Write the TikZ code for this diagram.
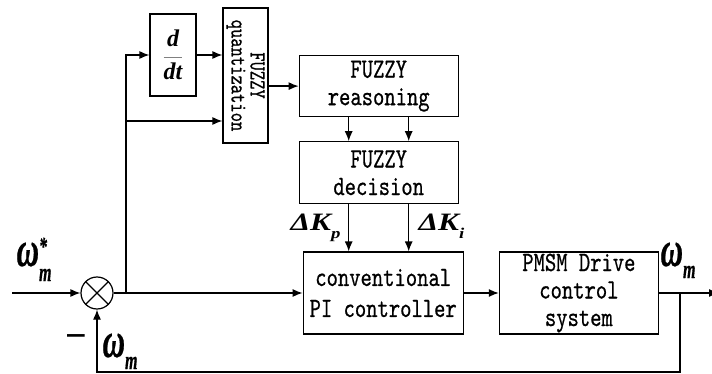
\RequirePackage{fix-cm}
\documentclass[tikz,border=0pt]{standalone}
\usepackage{amsmath}
\usepackage{xcolor}
\usepackage{fontspec}
\newfontfamily\boxfont[Extension=.otf,FakeStretch=0.77,FakeBold=0.6]{lmmono10-regular}
\newfontfamily\wfont[FakeStretch=0.62,FakeBold=0.5]{Liberation Serif}
\newfontfamily\kfont[FakeStretch=1.25]{Liberation Serif}
\newfontfamily\dfont{Liberation Serif}
\newcommand{\wm}{{\wfont\bfseries\itshape\fontsize{50}{50}\selectfont
  ω{\fontsize{26}{26}\selectfont\raisebox{-12pt}{m}}}}
\newcommand{\wmref}{{\wfont\bfseries\itshape\fontsize{50}{50}\selectfont
  ω{\fontsize{26}{26}\selectfont\rlap{\raisebox{11pt}{*}}\raisebox{-15pt}{m}}}}
\newcommand{\dk}[1]{{\kfont\bfseries\itshape\fontsize{25}{25}\selectfont
  ΔK{\fontsize{15}{15}\selectfont\raisebox{-9pt}{#1}}}}
\newcommand{\bi}[1]{\text{\dfont\bfseries\itshape #1}}
\usetikzlibrary{arrows.meta,positioning,calc}

\begin{document}
\begin{tikzpicture}[
  x=1pt, y=-1pt,
  line width=1.2pt,
  >=Latex,
  node distance=47pt and 35pt,
  line/.style={-{Latex[length=10pt,width=8pt]}},
  block/.style={
    draw,
    align=center,
    inner sep=0pt,
    font=\boxfont\fontsize{28}{27.5}\selectfont
  },
  summer/.style={
    draw,
    circle,
    minimum size=32pt,
    inner sep=0pt
  },
  lbl/.style={
    inner sep=0pt,
    anchor=base west
  }
]
\useasboundingbox (0,0) rectangle (712,374);

\node[summer] (sum) at (97,293) {};
\draw (sum.north west) -- (sum.south east)
      (sum.north east) -- (sum.south west);

\node[block, minimum width=160pt, minimum height=82pt, right=189pt of sum] (pi)
  {conventional\\[3.5pt]PI controller};
\node[block, minimum width=159pt, minimum height=82pt, right=of pi] (pmsm)
  {PMSM Drive\\control\\system};

\node[block, minimum width=159pt, minimum height=62pt, above=of pi, xshift=-4.5pt] (decision)
  {FUZZY\\decision};
\node[block, minimum width=159pt, minimum height=61pt, above=24pt of decision] (reason)
  {FUZZY\\reasoning};

\node[block, minimum width=45pt, minimum height=135pt] (quant) at (245.5,75.5) {};
\node[rotate=-90, align=center, inner sep=0pt,
      font=\boxfont\fontsize{23}{19}\selectfont] (qtext) at (quant) {FUZZY\\quantization};

\node[draw, minimum width=46pt, minimum height=82pt, inner sep=0pt,
      font=\fontsize{24}{24}\selectfont] (ddt) at (173,55)
  {\color{gray}$\dfrac{\color{black}\bi{d}}{\color{black}\bi{dt}}$};

\coordinate (in) at (12,293);
\coordinate (br) at (126,293);
\coordinate (fb) at (680,293);
\coordinate (out) at (719,293);

\draw[line] (in) -- (sum);
\draw[line] (sum) -- (pi);
\draw[line] (br) |- (ddt);
\draw[line] (br) |- ([yshift=-45.5pt]quant.west);
\draw[line] (ddt.east) -- (ddt.east -| quant.west);
\draw[line] (quant.east |- reason.west) -- (reason.west);
\foreach \dx in {-30,30} {
  \draw[line] ([xshift=\dx pt]reason.south) -- ([xshift=\dx pt]decision.north);
  \draw[line] ([xshift=\dx pt]decision.south) -- ([xshift=\dx pt]decision.south |- pi.north);
}
\draw[line] (pi) -- (pmsm);
\draw[line] (pmsm) -- (out);
\draw[line] (fb) |- (sum.south |- 0,372) -- (sum.south);

\node[lbl] (wref) at (16,266) {\wmref};
\node[lbl] (wfb) at (102,357) {\wm};
\node[lbl] (wout) at (660,266) {\wm};
\node[inner sep=0pt, anchor=base, font=\dfont\bfseries\fontsize{38}{38}\selectfont] (minus) at (76,348) {−};
\node[lbl] (dkp) at (290,230) {\dk{p}};
\node[lbl] (dki) at (418,230) {\dk{i}};

\end{tikzpicture}
\end{document}
